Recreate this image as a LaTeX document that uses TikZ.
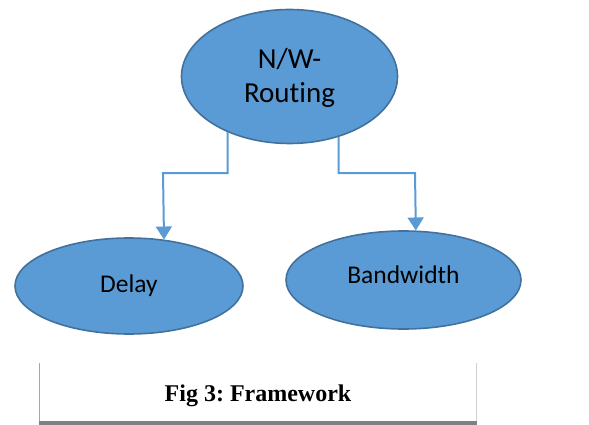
\documentclass[tikz,border=0pt]{standalone}
\usepackage{fontspec}
\setmainfont{Carlito}[Ligatures={NoCommon,NoRare,NoContextual}]
\newfontfamily\capfont{Liberation Serif}
\usetikzlibrary{shapes.geometric,arrows.meta}
\definecolor{ofill}{HTML}{5B9BD5}
\definecolor{oline}{HTML}{41719C}
\definecolor{frameA}{HTML}{A6A6A6}
\definecolor{frameB}{HTML}{D0D0D0}
\definecolor{frameC}{HTML}{808080}
\frenchspacing
\tikzset{
  ell/.style={ellipse, draw=oline, fill=ofill, line width=1.6pt, inner sep=0pt},
  lbl/.style={font=\fontsize{25.5}{34}\selectfont, text=black, align=center, inner sep=0pt},
  biglbl/.style={lbl, font=\fontsize{29}{34}\selectfont},
  conn/.style={draw=ofill, line width=2pt, -{Triangle[width=16pt,length=13pt]}},
  captxt/.style={font=\capfont\bfseries\fontsize{24}{28}\selectfont, inner sep=0pt}
}
\begin{document}
\begin{tikzpicture}[x=1pt,y=-1pt]
\useasboundingbox (0,0) rectangle (589,425);
% nodes
\node[ell, minimum width=216pt, minimum height=134pt] (top) at (289.5,76.5) {};
\node[biglbl] (toptext) at (289.5,78) {N/W-\\Routing};
\node[ell, minimum width=228pt, minimum height=96pt] (delay) at (129,286) {};
\node[lbl] (delaytext) at (delay.center) {Delay};
\node[ell, minimum width=235pt, minimum height=98pt] (bw) at (403.5,280) {};
\node[lbl] (bwtext) at (403.5,274.5) {Bandwidth};
% connectors
\coordinate (ljog) at (163,173);
\coordinate (rjog) at (415,173);
\draw[conn] (top.222.5) |- (ljog) -- (delay.53.4);
\draw[conn] (top.309.8) |- (rjog) -- (bw.76.7);
% caption frame
\draw[frameA, line width=1pt] (39.3,363) -- (39.3,421);
\draw[frameB, line width=1pt] (476.3,363) -- (476.3,421);
\fill[frameC] (38.8,421) rectangle (476.8,425);
\node[captxt] (cap) at (258,395.5) {Fig 3: Framework};
\end{tikzpicture}
\end{document}
